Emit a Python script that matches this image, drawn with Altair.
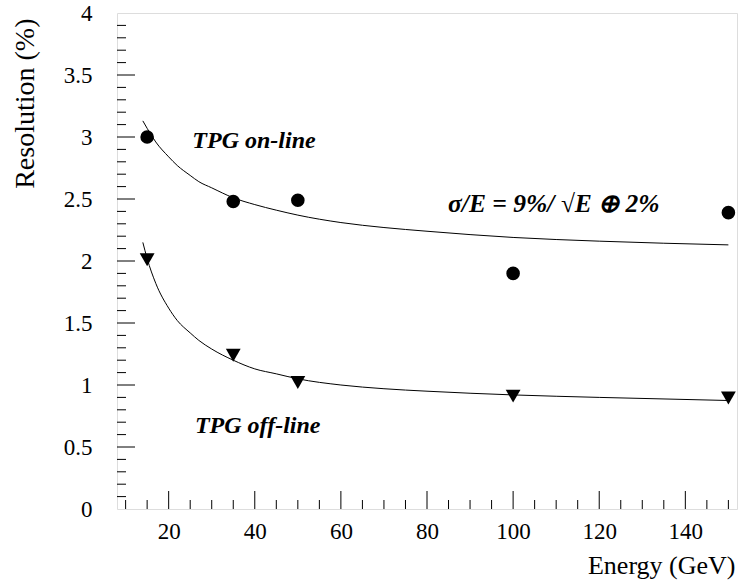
import altair as alt
import pandas as pd

# measured points
energy = [15, 35, 50, 100, 150]
online = [3.00, 2.48, 2.49, 1.90, 2.39]
offline = [2.01, 1.24, 1.02, 0.91, 0.895]

# fit curves
fit_e = [14, 15, 17, 20, 22, 25, 27, 30, 35, 40, 45, 50, 60, 70, 80, 100, 120, 150]
fit_on = [3.13, 3.07, 2.96, 2.84, 2.77, 2.69, 2.64, 2.59, 2.51, 2.455, 2.41, 2.37, 2.31, 2.27, 2.24, 2.19, 2.16, 2.13]
fit_off = [2.15, 2.02, 1.82, 1.62, 1.52, 1.42, 1.36, 1.29, 1.20, 1.13, 1.09, 1.05, 1.00, 0.97, 0.95, 0.92, 0.90, 0.875]

x_major = [20, 40, 60, 80, 100, 120, 140]
x_minor = [10, 15, 25, 30, 35, 45, 50, 55, 65, 70, 75, 85, 90, 95, 105, 110, 115, 125, 130, 135, 145, 150]
y_major = [0.5, 1, 1.5, 2, 2.5, 3, 3.5]
y_minor = [round(0.1 * i, 1) for i in range(1, 40) if i % 5 != 0]
y_labels = [0, 0.5, 1, 1.5, 2, 2.5, 3, 3.5, 4]

# annotations
note_text = ["TPG on-line", "TPG off-line", "σ/E = 9%/ √E ⊕ 2%"]
note_x = [25.5, 26.1, 84.9]
note_y = [2.91, 0.613, 2.395]
note_size = [24, 24, 25.5]

W, H = 620, 496
FONT = "Liberation Serif"

xs = alt.Scale(domain=[8, 152], nice=False, zero=False)
ys = alt.Scale(domain=[0, 4], nice=False)

pts = pd.DataFrame({"E": energy, "on": online, "off": offline})
fit = pd.DataFrame({"E": fit_e, "on": fit_on, "off": fit_off})

x_axis = alt.Axis(
    title="Energy (GeV)", values=x_major, ticks=False, tickSize=0, domain=False, grid=False,
    format="d",
    labelFont=FONT, labelFontSize=23, labelColor="black", labelPadding=11,
    titleFont=FONT, titleFontSize=26, titleFontWeight="normal", titleColor="black",
    titleAnchor="end", titleAlign="right", titleX=618, titleY=64, titleBaseline="alphabetic")

y_axis = alt.Axis(
    title="Resolution (%)", values=y_labels, ticks=False, tickSize=0, domain=False, grid=False,
    format="~g",
    labelFont=FONT, labelFontSize=23, labelColor="black", labelPadding=25,
    titleFont=FONT, titleFontSize=28, titleFontWeight="normal", titleColor="black",
    titleAngle=270, titleAlign="right", titleX=-84, titleY=5, titleBaseline="alphabetic")

def X(f):
    return alt.X(f, scale=xs, axis=x_axis, title="Energy (GeV)")

def Y(f):
    return alt.Y(f, scale=ys, axis=y_axis, title="Resolution (%)")

line_on = alt.Chart(fit).mark_line(color="black", strokeWidth=1, interpolate="monotone").encode(
    x=X("E:Q"), y=Y("on:Q"))
line_off = alt.Chart(fit).mark_line(color="black", strokeWidth=1, interpolate="monotone").encode(
    x=X("E:Q"), y=Y("off:Q"))

circ = alt.Chart(pts).mark_point(shape="circle", filled=True, color="black", size=185, opacity=1).encode(
    x=X("E:Q"), y=Y("on:Q"))
tri = alt.Chart(pts).mark_point(shape="triangle-down", filled=True, color="black", size=220, opacity=1).encode(
    x=X("E:Q"), y=Y("off:Q"))

def xticks(vals, ln):
    return alt.Chart(pd.DataFrame({"v": vals})).mark_rule(color="black", strokeWidth=1).encode(
        x=X("v:Q"), y=alt.value(H), y2=alt.value(H - ln))

def yticks(vals, ln):
    return alt.Chart(pd.DataFrame({"v": vals})).mark_rule(color="black", strokeWidth=1).encode(
        y=Y("v:Q"), x=alt.value(0), x2=alt.value(ln))

labels = pd.DataFrame({"x": note_x, "y": note_y, "t": note_text, "s": note_size})
txt = alt.Chart(labels).mark_text(font=FONT, fontWeight="bold", fontStyle="italic",
                                   align="left", baseline="alphabetic", color="black").encode(
    x=X("x:Q"), y=Y("y:Q"), text="t:N", size=alt.Size("s:Q", scale=None, legend=None))

chart = alt.layer(
    line_on, line_off, circ, tri, txt,
    xticks(x_major, 18), xticks(x_minor, 9), yticks(y_major, 18), yticks(y_minor, 9),
).properties(
    width=W, height=H,
    autosize=alt.AutoSizeParams(type="none"),
    padding={"left": 117, "top": 13, "right": 2, "bottom": 76},
).configure_view(stroke="#222222", strokeWidth=1.4).configure_axis(
    labelFont=FONT, titleFont=FONT
).configure(background="white", font=FONT)

chart.save("out.html", embed_options={"renderer": "svg", "actions": False})
